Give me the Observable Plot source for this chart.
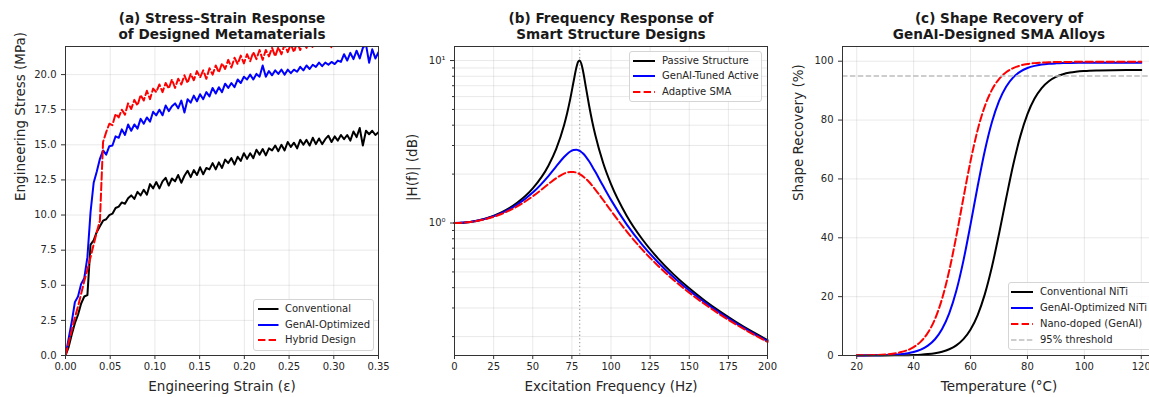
<!DOCTYPE html>
<html><head><meta charset="utf-8">
<script src="https://cdn.jsdelivr.net/npm/d3@7"></script>
<script src="https://cdn.jsdelivr.net/npm/@observablehq/plot@0.6"></script>
<style>
body{margin:0;background:#fff;font-family:"DejaVu Sans",sans-serif;}
#wrap{position:relative;width:1149px;height:397px;overflow:hidden;background:#fff;}
.panel{position:absolute;top:0;width:389px;height:397px;}
.legend{position:absolute;background:rgba(255,255,255,0.85);border:1px solid #d5d5d5;border-radius:3px;box-sizing:border-box;}
.legend .lab{position:absolute;font-size:10px;line-height:12px;color:#262626;white-space:nowrap;font-family:"DejaVu Sans",sans-serif;}
.legend svg{position:absolute;overflow:visible;}
</style></head><body><div id="wrap"></div>
<script>
// ---------- Panel (a) data ----------
const strain = [0, 0.0035, 0.007, 0.0105, 0.014, 0.0175, 0.021, 0.0245, 0.028, 0.0315,
0.035, 0.0385, 0.042, 0.0455, 0.049, 0.0525, 0.056, 0.0595, 0.063, 0.0665,
0.07, 0.0735, 0.077, 0.0805, 0.084, 0.0875, 0.091, 0.0945, 0.098, 0.1015,
0.105, 0.1085, 0.112, 0.1155, 0.119, 0.1225, 0.126, 0.1295, 0.133, 0.1365,
0.14, 0.1435, 0.147, 0.1505, 0.154, 0.1575, 0.161, 0.1645, 0.168, 0.1715,
0.175, 0.1785, 0.182, 0.1855, 0.189, 0.1925, 0.196, 0.1995, 0.203, 0.2065,
0.21, 0.2135, 0.217, 0.2205, 0.224, 0.2275, 0.231, 0.2345, 0.238, 0.2415,
0.245, 0.2485, 0.252, 0.2555, 0.259, 0.2625, 0.266, 0.2695, 0.273, 0.2765,
0.28, 0.2835, 0.287, 0.2905, 0.294, 0.2975, 0.301, 0.3045, 0.308, 0.3115,
0.315, 0.3185, 0.322, 0.3255, 0.329, 0.3325, 0.336, 0.3395, 0.343, 0.3465, 0.35];
const conventional = [0, 0.6, 1.5, 2.3, 2.9, 3.7, 4.2, 4.3, 7.9, 8.2,
8.8, 9.2, 9.6, 9.7, 10.0, 10.1, 10.5, 10.6, 10.9, 10.8,
11.2, 11.4, 11.15, 11.65, 11.4, 11.8, 11.45, 12.2, 11.9, 12.35,
11.9, 12.4, 12.65, 12.1, 12.6, 12.4, 12.85, 12.3, 12.8, 13.15,
12.7, 13.2, 12.85, 13.4, 12.9, 13.35, 13.25, 13.7, 13.25, 13.75,
13.35, 13.95, 13.7, 14.05, 13.6, 14.15, 13.85, 14.4, 14.0, 14.4,
14.05, 14.65, 14.3, 14.7, 14.25, 14.75, 14.6, 14.95, 14.55, 15.0,
14.6, 15.2, 14.85, 15.15, 14.75, 15.35, 15.0, 15.35, 14.95, 15.5,
15.05, 15.45, 15.05, 15.4, 15.65, 15.2, 15.6, 15.3, 15.7, 15.4,
15.7, 15.3, 15.95, 15.55, 16.2, 14.95, 16.0, 15.75, 16.0, 15.7, 15.9];
const genaiOptimized = [0, 1.2, 2.4, 3.8, 4.2, 5.1, 5.5, 7.0, 10.2, 12.3,
13.1, 14.0, 14.6, 14.3, 14.9, 14.95, 15.6, 15.5, 16.1, 15.7,
16.45, 16.0, 16.45, 16.15, 16.85, 16.5, 16.95, 16.65, 17.35, 17.1,
17.5, 17.1, 17.8, 17.4, 17.75, 17.95, 17.6, 18.15, 17.3, 18.25,
18.0, 18.5, 18.1, 18.6, 18.25, 18.75, 18.45, 19.05, 18.65, 19.1,
18.75, 19.35, 19.05, 19.4, 19.1, 19.65, 19.4, 19.85, 19.65, 20.0,
19.65, 20.05, 19.85, 20.65, 19.85, 20.25, 19.95, 20.3, 20.05, 20.35,
20.0, 20.35, 20.1, 20.35, 20.2, 20.55, 20.3, 20.65, 20.4, 20.7,
20.55, 20.85, 20.6, 20.85, 20.7, 20.9, 20.75, 21.0, 20.9, 21.45,
21.0, 21.55, 21.1, 21.7, 21.15, 21.9, 22.15, 20.85, 21.8, 21.15, 21.6];
const hybridDesign = [0, 0.9, 1.8, 2.7, 3.5, 4.4, 5.3, 6.1, 7.0, 7.9,
8.8, 9.6, 15.2, 15.9, 16.5, 16.4, 17.2, 16.95, 17.5, 17.15,
17.95, 17.55, 18.2, 17.8, 18.55, 18.15, 18.85, 18.25, 19.0, 18.75,
19.3, 18.75, 19.4, 19.0, 19.65, 19.05, 19.7, 19.3, 19.95, 19.4,
20.05, 19.6, 20.25, 19.8, 20.3, 19.7, 20.45, 20.0, 20.65, 20.15,
20.8, 20.4, 21.05, 20.5, 21.2, 20.75, 21.35, 20.8, 21.45, 20.95,
21.6, 21.1, 21.75, 21.05, 21.75, 21.3, 21.9, 21.3, 21.95, 21.45,
22.15, 21.6, 22.15, 21.6, 22.3, 21.75, 22.35, 21.9, 22.5, 21.9,
22.55, 22.1, 22.6, 22.05, 22.65, 21.9, 22.75, 22.3, 22.9, 22.5,
23.05, 22.3, 23.05, 22.6, 23.25, 22.4, 23.25, 22.8, 23.3, 22.9, 23.2];
const strainTicks = [0, 0.05, 0.10, 0.15, 0.20, 0.25, 0.30, 0.35];
const stressTicks = [0, 2.5, 5, 7.5, 10, 12.5, 15, 17.5, 20];

// ---------- Panel (b) data ----------
const freq = [0, 10, 20, 30, 40, 50, 60, 65, 70, 72, 74, 76, 78, 79, 80, 81, 82, 84, 86, 88, 90, 95, 100, 110, 120, 130, 140, 150, 160, 170, 180, 190, 200];
const passive = [1, 1.0158, 1.0663, 1.1625, 1.3304, 1.6325, 2.2529, 2.8619, 3.9971, 4.7565, 5.8322, 7.3459, 9.150, 9.820, 10.0, 9.585, 8.747, 6.815, 5.287, 4.218, 3.4666, 2.3419, 1.7355, 1.1097, 0.7943, 0.6066, 0.4831, 0.3964, 0.3326, 0.2839, 0.2458, 0.2152, 0.1903];
const tunedActive = [1, 1.0148, 1.0618, 1.1496, 1.2965, 1.5394, 1.9451, 2.2302, 2.5469, 2.6624, 2.7552, 2.8119, 2.8212, 2.8061, 2.7778, 2.7370, 2.6849, 2.5533, 2.3974, 2.2310, 2.0647, 1.6879, 1.3882, 0.9814, 0.7344, 0.5741, 0.4637, 0.3839, 0.3241, 0.2779, 0.2414, 0.2119, 0.1877];
const adaptiveSMA = [1, 1.0138, 1.0573, 1.1369, 1.2649, 1.4602, 1.7355, 1.8880, 2.0148, 2.0472, 2.0639, 2.0623, 2.0408, 2.0227, 2.0, 1.9729, 1.9418, 1.8695, 1.7871, 1.6986, 1.6076, 1.3857, 1.1893, 0.8888, 0.6860, 0.5462, 0.4463, 0.3725, 0.3162, 0.2723, 0.2372, 0.2088, 0.1853];
const freqTicks = [0, 25, 50, 75, 100, 125, 150, 175, 200];
const magMajorTicks = [1, 10];
const magTickLabels = ["10\u2070", "10\u00b9"];
const magMinorTicks = [0.2, 0.3, 0.4, 0.5, 0.6, 0.7, 0.8, 0.9, 2, 3, 4, 5, 6, 7, 8, 9];
const resonance = [80];

// ---------- Panel (c) data ----------
const temps = [20, 25, 30, 35, 40, 42.5, 45, 47.5, 50, 52.5, 55, 57.5, 60, 62.5, 65, 67.5, 70, 72.5, 75, 77.5, 80, 82.5, 85, 87.5, 90, 92.5, 95, 100, 105, 110, 115, 120];
const conventionalNiTi = [0.003, 0.009, 0.024, 0.066, 0.178, 0.293, 0.482, 0.792, 1.299, 2.123, 3.451, 5.562, 8.839, 13.76, 20.78, 30.07, 41.28, 53.33, 64.82, 74.55, 82.02, 87.32, 90.89, 93.20, 94.66, 95.57, 96.13, 96.68, 96.88, 96.96, 96.98, 96.99];
const genaiNiTi = [0.018, 0.052, 0.148, 0.421, 1.195, 2.003, 3.340, 5.518, 8.987, 14.30, 21.99, 32.25, 44.55, 57.52, 69.50, 79.26, 86.44, 91.33, 94.50, 96.48, 97.69, 98.42, 98.86, 99.12, 99.27, 99.37, 99.42, 99.47, 99.49, 99.50, 99.50, 99.50];
const nanoDoped = [0.044, 0.126, 0.358, 1.015, 2.847, 4.719, 7.725, 12.40, 19.30, 28.79, 40.58, 53.56, 66.07, 76.65, 84.67, 90.26, 93.93, 96.24, 97.66, 98.53, 99.04, 99.35, 99.53, 99.64, 99.71, 99.74, 99.77, 99.79, 99.80, 99.80, 99.80, 99.80];
const tempTicks = [20, 40, 60, 80, 100, 120];
const recoveryTicks = [0, 20, 40, 60, 80, 100];
const threshold = [95];

// ---------- shared styling ----------
const W = 389, H = 397;
const common = {width: W, height: H, marginLeft: 65, marginRight: 11, marginTop: 46, marginBottom: 42,
  style: {fontFamily: "DejaVu Sans, sans-serif", fontSize: "10px", color: "#262626", background: "transparent", overflow: "visible"}};
const gridStyle = {stroke: "#b0b0b0", strokeOpacity: 0.35, strokeWidth: 0.8};
const DASH = "7.4,3.2";
function titleMarks(l1, l2) {
  return [
    Plot.text([l1], {frameAnchor: "top", dy: -27.7, lineAnchor: "middle", fontWeight: "bold", fontSize: 13.6, fill: "#1a1a1a"}),
    Plot.text([l2], {frameAnchor: "top", dy: -12.3, lineAnchor: "middle", fontWeight: "bold", fontSize: 13.6, fill: "#1a1a1a"})
  ];
}
function axisLabels(xl, yl, ydx) {
  return [
    Plot.text([xl], {frameAnchor: "bottom", dy: 31.5, lineAnchor: "middle", fontSize: 13.5, fill: "#262626"}),
    Plot.text([yl], {frameAnchor: "left", dx: ydx, rotate: -90, lineAnchor: "middle", fontSize: 13.5, fill: "#262626"})
  ];
}

// ---------- Panel (a) ----------
const tableA = strain.map((s, i) => ({strain: s, conventional: conventional[i], genai: genaiOptimized[i], hybrid: hybridDesign[i]}));
const plotA = Plot.plot({...common,
  x: {domain: [0, 0.35]},
  y: {domain: [0, 22]},
  marks: [
    Plot.gridX(strainTicks, gridStyle),
    Plot.gridY(stressTicks, gridStyle),
    Plot.line(tableA, {x: "strain", y: "conventional", stroke: "black", strokeWidth: 2, clip: true}),
    Plot.line(tableA, {x: "strain", y: "genai", stroke: "#0000ff", strokeWidth: 2, clip: true}),
    Plot.line(tableA, {x: "strain", y: "hybrid", stroke: "#ff0000", strokeWidth: 2, strokeDasharray: DASH, clip: true}),
    Plot.axisX(strainTicks, {tickFormat: d3.format(".2f"), tickSize: 4, tickPadding: 3, label: null, stroke: "#333"}),
    Plot.axisY(stressTicks, {tickFormat: d3.format(".1f"), tickSize: 4, tickPadding: 5, label: null, stroke: "#333"}),
    Plot.frame({stroke: "#333", strokeWidth: 1}),
    ...titleMarks("(a) Stress\u2013Strain Response", "of Designed Metamaterials"),
    ...axisLabels("Engineering Strain (\u03b5)", "Engineering Stress (MPa)", -45)
  ]
});

// ---------- Panel (b) ----------
const tableB = freq.map((f, i) => ({f, passive: passive[i], tuned: tunedActive[i], sma: adaptiveSMA[i]}));
const plotB = Plot.plot({...common,
  x: {domain: [0, 200]},
  y: {type: "log", domain: [0.153, 12.2]},
  marks: [
    Plot.gridX(freqTicks, gridStyle),
    Plot.gridY(magMinorTicks, gridStyle),
    Plot.gridY(magMajorTicks, gridStyle),
    Plot.ruleX(resonance, {stroke: "#999", strokeWidth: 1.1, strokeDasharray: "1.3,2.4"}),
    Plot.line(tableB, {x: "f", y: "passive", stroke: "black", strokeWidth: 2, curve: "monotone-x"}),
    Plot.line(tableB, {x: "f", y: "tuned", stroke: "#0000ff", strokeWidth: 2, curve: "monotone-x"}),
    Plot.line(tableB, {x: "f", y: "sma", stroke: "#ff0000", strokeWidth: 2, strokeDasharray: DASH, curve: "monotone-x"}),
    Plot.axisX(freqTicks, {tickFormat: d3.format("d"), tickSize: 4, tickPadding: 3, label: null, stroke: "#333"}),
    Plot.axisY(magMajorTicks, {tickFormat: (d, i) => magTickLabels[magMajorTicks.indexOf(d)], tickSize: 4, tickPadding: 5, label: null, stroke: "#333"}),
    Plot.axisY(magMinorTicks, {tickFormat: () => "", tickSize: 2, label: null, stroke: "#333"}),
    Plot.frame({stroke: "#333", strokeWidth: 1}),
    ...titleMarks("(b) Frequency Response of", "Smart Structure Designs"),
    ...axisLabels("Excitation Frequency (Hz)", "|H(f)| (dB)", -42)
  ]
});

// ---------- Panel (c) ----------
const tableC = temps.map((t, i) => ({t, conv: conventionalNiTi[i], genai: genaiNiTi[i], nano: nanoDoped[i]}));
const plotC = Plot.plot({...common,
  x: {domain: [15, 125]},
  y: {domain: [0, 105]},
  marks: [
    Plot.gridX(tempTicks, gridStyle),
    Plot.gridY(recoveryTicks, gridStyle),
    Plot.line(tableC, {x: "t", y: "conv", stroke: "black", strokeWidth: 2, curve: "monotone-x"}),
    Plot.line(tableC, {x: "t", y: "genai", stroke: "#0000ff", strokeWidth: 2, curve: "monotone-x"}),
    Plot.line(tableC, {x: "t", y: "nano", stroke: "#ff0000", strokeWidth: 2, strokeDasharray: DASH, curve: "monotone-x"}),
    Plot.ruleY(threshold, {stroke: "#bdbdbd", strokeWidth: 1.5, strokeDasharray: "5.5,2.4"}),
    Plot.axisX(tempTicks, {tickFormat: d3.format("d"), tickSize: 4, tickPadding: 3, label: null, stroke: "#333"}),
    Plot.axisY(recoveryTicks, {tickFormat: d3.format("d"), tickSize: 4, tickPadding: 5, label: null, stroke: "#333"}),
    Plot.frame({stroke: "#333", strokeWidth: 1}),
    ...titleMarks("(c) Shape Recovery of", "GenAI-Designed SMA Alloys"),
    ...axisLabels("Temperature (\u00b0C)", "Shape Recovery (%)", -44)
  ]
});

// ---------- layout ----------
const wrap = document.getElementById("wrap");
function addPanel(plot, left) {
  const d = document.createElement("div");
  d.className = "panel"; d.style.left = left + "px";
  d.appendChild(plot); wrap.appendChild(d); return d;
}
const pA = addPanel(plotA, 0), pB = addPanel(plotB, 389), pC = addPanel(plotC, 777);

function legend(panel, box, rows) {
  const lg = document.createElement("div");
  lg.className = "legend";
  Object.assign(lg.style, {left: box.left + "px", top: box.top + "px", width: box.w + "px", height: box.h + "px"});
  rows.forEach((r, i) => {
    const cy = box.rowY[i] - box.top - 1;
    const svg = document.createElementNS("http://www.w3.org/2000/svg", "svg");
    svg.setAttribute("width", box.lineW); svg.setAttribute("height", 6);
    Object.assign(svg.style, {left: (box.lineX - box.left - 1) + "px", top: (cy - 3) + "px"});
    const ln = document.createElementNS("http://www.w3.org/2000/svg", "line");
    ln.setAttribute("x1", 0); ln.setAttribute("x2", box.lineW); ln.setAttribute("y1", 3); ln.setAttribute("y2", 3);
    ln.setAttribute("stroke", r.color); ln.setAttribute("stroke-width", r.width || 2);
    if (r.dash) ln.setAttribute("stroke-dasharray", r.dash);
    svg.appendChild(ln); lg.appendChild(svg);
    const t = document.createElement("div");
    t.className = "lab"; t.textContent = r.label;
    Object.assign(t.style, {left: (box.textX - box.left - 1) + "px", top: (cy - 6) + "px"});
    lg.appendChild(t);
  });
  panel.appendChild(lg);
}
legend(pA, {left: 253, top: 299, w: 121, h: 52, lineX: 257.5, lineW: 20.5, textX: 285, rowY: [308.5, 324.5, 340]}, [
  {label: "Conventional", color: "black"},
  {label: "GenAI-Optimized", color: "#0000ff"},
  {label: "Hybrid Design", color: "#ff0000", dash: DASH}
]);
legend(pB, {left: 240, top: 51, w: 133, h: 51, lineX: 244, lineW: 22, textX: 273, rowY: [60.5, 76, 92]}, [
  {label: "Passive Structure", color: "black"},
  {label: "GenAI-Tuned Active", color: "#0000ff"},
  {label: "Adaptive SMA", color: "#ff0000", dash: DASH}
]);
legend(pC, {left: 231, top: 282, w: 150, h: 68, lineX: 234, lineW: 22, textX: 263, rowY: [292, 308, 324, 340]}, [
  {label: "Conventional NiTi", color: "black"},
  {label: "GenAI-Optimized NiTi", color: "#0000ff"},
  {label: "Nano-doped (GenAI)", color: "#ff0000", dash: DASH},
  {label: "95% threshold", color: "#bdbdbd", dash: "5.5,2.4", width: 1.5}
]);
</script></body></html>
